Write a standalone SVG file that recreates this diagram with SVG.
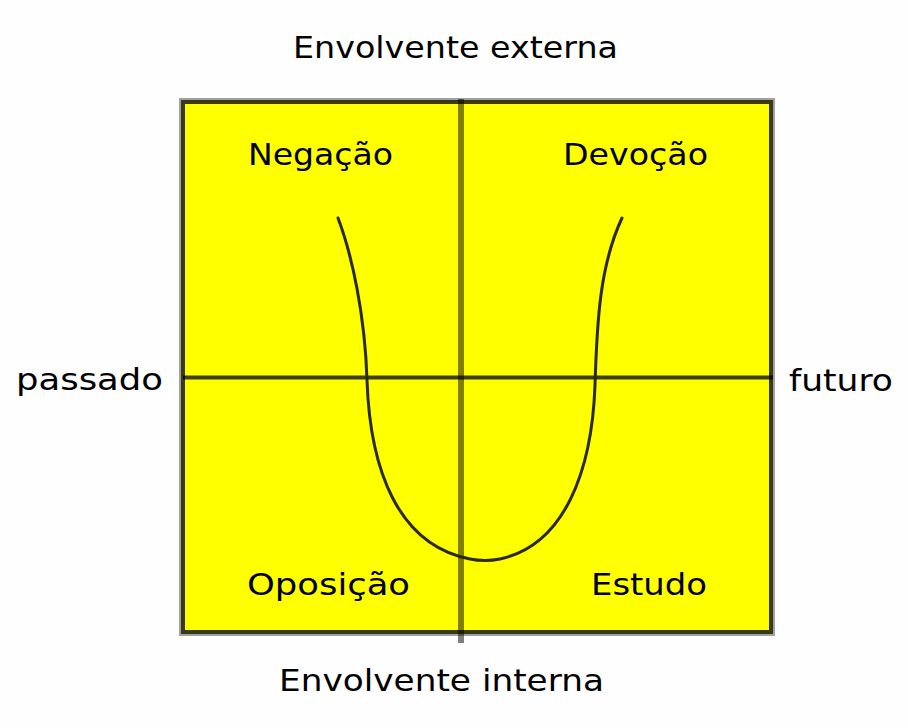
<svg xmlns="http://www.w3.org/2000/svg" width="908" height="728" viewBox="0 0 908 728">
  <style>
    .lbl { font-family: "DejaVu Sans", "Verdana", sans-serif; font-size: 30px; fill: #000; }
  </style>
  <rect width="908" height="728" fill="#fefefe"/>
  <g id="quadrant">
    <rect x="180" y="99" width="594" height="536" fill="none" stroke="#a0a0a8" stroke-width="2"/>
    <rect x="183" y="102" width="588" height="530" fill="#ffff00" stroke="#3a3a10" stroke-width="4"/>
  </g>
  <g id="axes">
    <line x1="461" y1="99" x2="461" y2="643" stroke="#000" stroke-opacity="0.5" stroke-width="6"/>
    <line x1="183" y1="377.5" x2="773" y2="377.5" stroke="#000" stroke-opacity="0.75" stroke-width="4"/>
  </g>
  <g id="curve">
    <path d="M338,218 C352,255 365,315 367,380 C370,470 398,545 470,559 C 480,561 490,561 500,559 C 565,545 592,470 595,385 C 597,320 600,265 622,218" fill="none" stroke="#2a2a00" stroke-width="3" stroke-linecap="round"/>
  </g>
  <g id="labels">
    <text class="lbl" x="293" y="58" textLength="325" lengthAdjust="spacingAndGlyphs">Envolvente externa</text>
    <text class="lbl" x="248" y="165" textLength="145" lengthAdjust="spacingAndGlyphs">Negação</text>
    <text class="lbl" x="563" y="165" textLength="145" lengthAdjust="spacingAndGlyphs">Devoção</text>
    <text class="lbl" x="16" y="390" textLength="147" lengthAdjust="spacingAndGlyphs">passado</text>
    <text class="lbl" x="789" y="391" textLength="104" lengthAdjust="spacingAndGlyphs">futuro</text>
    <text class="lbl" x="247" y="595" textLength="163" lengthAdjust="spacingAndGlyphs">Oposição</text>
    <text class="lbl" x="591" y="595" textLength="116" lengthAdjust="spacingAndGlyphs">Estudo</text>
    <text class="lbl" x="279" y="691" textLength="325" lengthAdjust="spacingAndGlyphs">Envolvente interna</text>
  </g>
</svg>
